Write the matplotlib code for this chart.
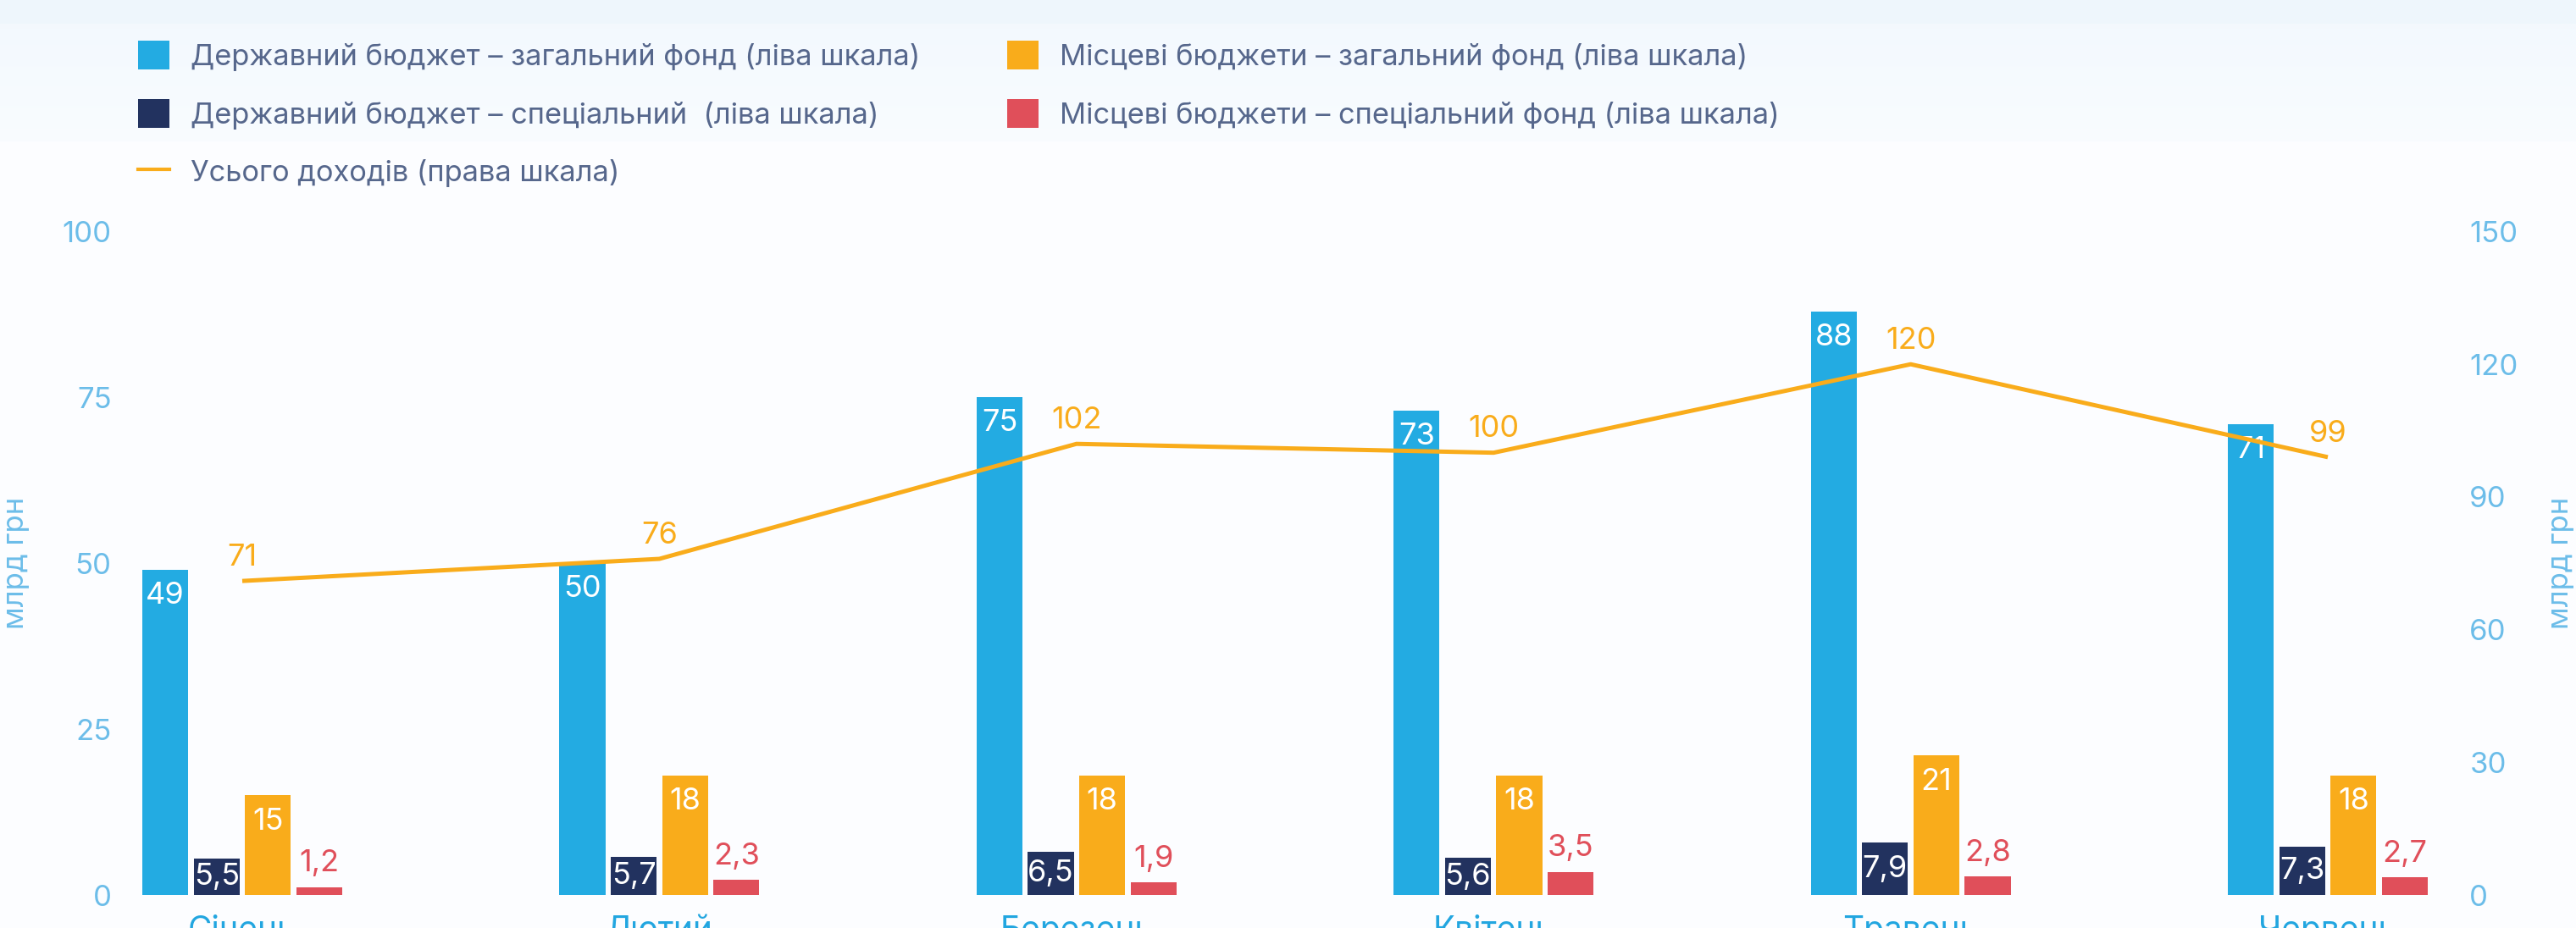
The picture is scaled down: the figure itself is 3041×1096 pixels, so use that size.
import numpy as np
import matplotlib
matplotlib.use('Agg')
import matplotlib.pyplot as plt
from matplotlib.patches import Patch
from matplotlib.lines import Line2D

plt.rcParams['font.family'] = ['Inter', 'DejaVu Sans']

# data, bn UAH
months = ['Січень', 'Лютий', 'Березень', 'Квітень', 'Травень', 'Червень']
state_general = [49, 50, 75, 73, 88, 71]
state_special = [5.5, 5.7, 6.5, 5.6, 7.9, 7.3]
local_general = [15, 18, 18, 18, 21, 18]
local_special = [1.2, 2.3, 1.9, 3.5, 2.8, 2.7]
total_income = [71, 76, 102, 100, 120, 99]

names = ['Державний бюджет – загальний фонд (ліва шкала)',
         'Державний бюджет – спеціальний  (ліва шкала)',
         'Місцеві бюджети – загальний фонд (ліва шкала)',
         'Місцеві бюджети – спеціальний фонд (ліва шкала)']
line_name = 'Усього доходів (права шкала)'

BLUE = '#23abe2'
NAVY = '#22325f'
ORANGE = '#f9ac1b'
RED = '#e04f5a'
TICK = '#6cbde9'
MONTH = '#22a6e0'
LEG_TXT = '#56678c'

W, H = 3041, 1096
fig = plt.figure(figsize=(W / 100, H / 100), dpi=100, facecolor='#fdfeff')

# soft blue band behind the legend
bg = fig.add_axes([0, 0, 1, 1], zorder=-10)
top = np.array([0.937, 0.965, 0.992])
mid_a = np.array([0.953, 0.976, 0.996])
mid_b = np.array([0.975, 0.988, 0.998])
low = np.array([0.992, 0.996, 1.0])
img = np.zeros((H, 1, 3))
for r in range(H):
    if r < 28:
        img[r, 0] = top
    elif r < 167:
        t = (r - 28) / (167 - 28)
        img[r, 0] = mid_a * (1 - t) + mid_b * t
    else:
        img[r, 0] = low
bg.imshow(img, aspect='auto', extent=[0, 1, 0, 1], origin='upper')
bg.axis('off')

L, R = 140, 2900
x0_px, step_px = 286, 492.4
ax = fig.add_axes([L / W, 39 / H, (R - L) / W, 783.5 / H])
ax.patch.set_alpha(0)
x = np.arange(len(months))

bw = 0.11
step = 0.123
series = [state_general, state_special, local_general, local_special]
colors = [BLUE, NAVY, ORANGE, RED]
for k, (vals, c, name) in enumerate(zip(series, colors, names)):
    xs = x + (k - 1.5) * step
    ax.bar(xs, vals, bw, color=c, label=name, zorder=2)
    for xi, v in zip(xs, vals):
        txt = f'{v:g}'.replace('.', ',')
        if k == 0 or k == 2:
            ax.annotate(txt, (xi, v), xytext=(0, -22), textcoords='offset points',
                        ha='center', va='center', color='white', fontsize=26)
        elif k == 1:
            ax.annotate(txt, (xi, v / 2), ha='center', va='center',
                        color='white', fontsize=26)
        else:
            ax.annotate(txt, (xi, v), xytext=(0, 20), textcoords='offset points',
                        ha='center', va='center', color=RED, fontsize=26)

ax.set_xlim((L - x0_px) / step_px, (R - x0_px) / step_px)
ax.set_ylim(0, 100)
ax.set_yticks(range(0, 101, 25))
ax.set_xticks(x, months)
ax.tick_params(axis='y', length=0, pad=6, labelsize=25, labelcolor=TICK)
ax.tick_params(axis='x', length=0, pad=17, labelsize=28, labelcolor=MONTH)
for s in ax.spines.values():
    s.set_visible(False)

ax2 = ax.twinx()
ax2.plot(x, total_income, color=ORANGE, lw=3.6, solid_capstyle='butt', zorder=3)
for xi, v in zip(x, total_income):
    ax2.annotate(f'{v}', (xi, v), xytext=(0, 20), textcoords='offset points',
                 ha='center', va='center', color=ORANGE, fontsize=26)
ax2.set_ylim(0, 150)
ax2.set_yticks(range(0, 151, 30))
ax2.tick_params(axis='y', length=0, pad=11, labelsize=25, labelcolor=TICK)
for s in ax2.spines.values():
    s.set_visible(False)

fig.text(19 / W, 1 - 665 / H, 'млрд грн', rotation=90, ha='center', va='center',
         color=TICK, fontsize=25)
fig.text(3023 / W, 1 - 665 / H, 'млрд грн', rotation=90, ha='center', va='center',
         color=TICK, fontsize=25)

# legend in two columns
h = [Patch(facecolor=c, edgecolor='none') for c in colors]
hl = Line2D([0], [0], color=ORANGE, lw=3)
leg_kw = dict(loc='upper left', frameon=False, fontsize=24.8, handlelength=1.08,
              handleheight=1.13, handletextpad=0.73, labelspacing=0.97,
              borderpad=0, borderaxespad=0)
leg1 = fig.legend([h[0], h[1], hl], [names[0], names[1], line_name],
                  bbox_to_anchor=(163 / W, 1 - 48 / H), **leg_kw)
leg2 = fig.legend([h[2], h[3]], [names[2], names[3]],
                  bbox_to_anchor=(1189 / W, 1 - 48 / H), **leg_kw)
for leg in (leg1, leg2):
    for t in leg.get_texts():
        t.set_color(LEG_TXT)

fig.savefig('out.png', dpi=100, facecolor=fig.get_facecolor())
